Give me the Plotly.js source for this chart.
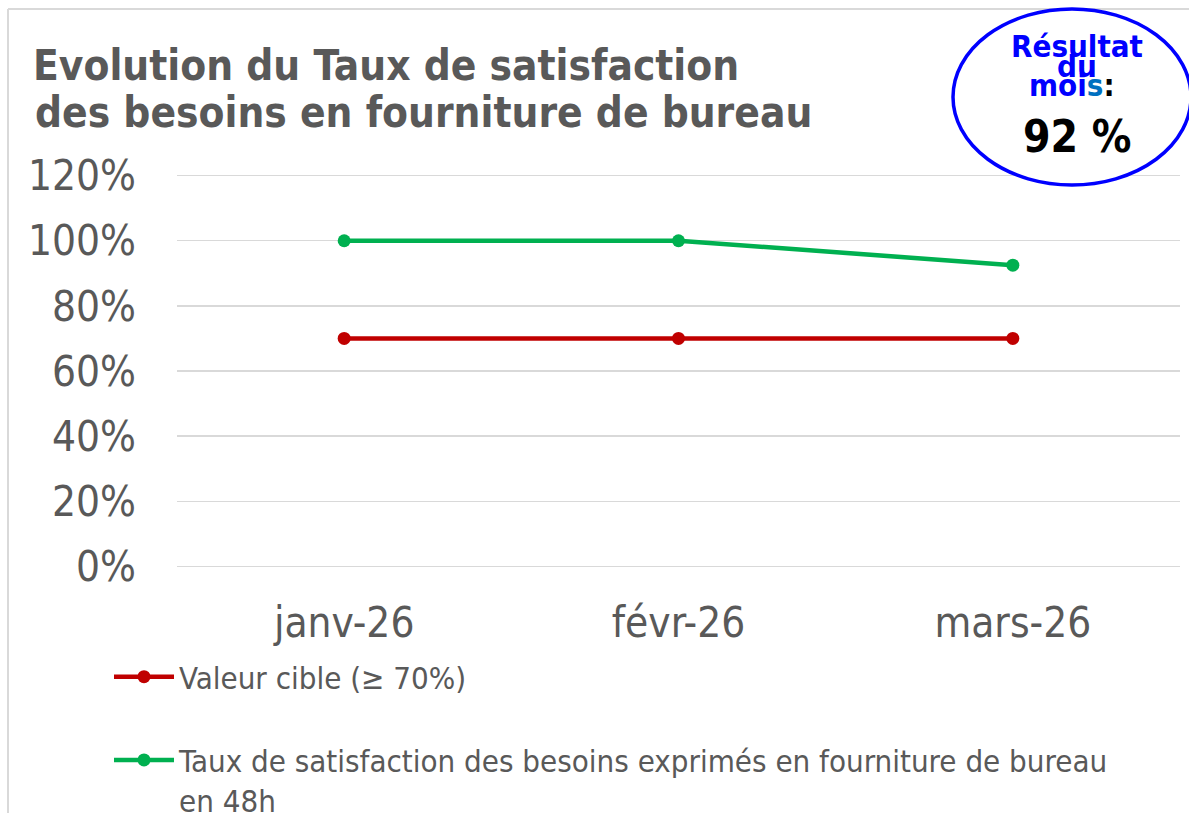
<!DOCTYPE html>
<html>
<head>
<meta charset="utf-8">
<script src="https://cdn.plot.ly/plotly-3.0.1.min.js"></script>
<style>
html,body{margin:0;padding:0;background:#fff;}
#chart{width:1189px;height:813px;}
</style>
</head>
<body>
<div id="chart"></div>
<script>
// ---- data ----
const months = ["janv-26", "févr-26", "mars-26"];
const targetValues = [0.70, 0.70, 0.70];
const satisfactionValues = [1.00, 1.00, 0.925];
const targetName = "Valeur cible (≥ 70%)";
const satisfactionName = "Taux de satisfaction des besoins exprimés en fourniture de bureau<br>en 48h";
const yTickValues = [0, 0.2, 0.4, 0.6, 0.8, 1.0, 1.2];
const titleLine1 = "Evolution du Taux de satisfaction";
const titleLine2 = "des besoins en fourniture de bureau";
const monthResult = "92 %";

// ---- layout geometry (pixels) ----
const W = 1189, H = 813;
const M = {l: 177, r: 9, t: 173, b: 244, autoexpand: false};
const PW = W - M.l - M.r, PH = H - M.t - M.b;
const px = x => (x - M.l) / PW;
const py = y => (H - M.b - y) / PH;

const FONT = "DejaVu Sans Condensed, DejaVu Sans, sans-serif";
const GREY = "#595959";

const traces = [
  {
    x: months, y: targetValues, name: targetName, type: "scatter", mode: "lines+markers",
    line: {color: "#c00000", width: 4.5}, marker: {color: "#c00000", size: 13},
    legendgroup: "a"
  },
  {
    x: months, y: satisfactionValues, name: satisfactionName, type: "scatter", mode: "lines+markers",
    line: {color: "#00b050", width: 4.5}, marker: {color: "#00b050", size: 13},
    legendgroup: "b"
  }
];

const layout = {
  width: W, height: H,
  margin: M,
  paper_bgcolor: "#fff", plot_bgcolor: "#fff",
  font: {family: FONT, color: GREY},
  title: {
    text: titleLine1,
    font: {family: FONT, size: 42, color: GREY, weight: "bold"},
    xref: "container", yref: "container",
    x: 33 / W, xanchor: "left",
    y: 1 - 65 / H, yanchor: "middle"
  },
  xaxis: {
    type: "category", range: [-0.5, 2.5],
    showgrid: false, showline: false, zeroline: false,
    ticks: "", ticklabelstandoff: 25,
    tickfont: {family: FONT, size: 42, color: GREY},
    fixedrange: true
  },
  yaxis: {
    range: [-0.008, 1.208], tickvals: yTickValues, tickformat: ".0%",
    showgrid: true, gridcolor: "#d9d9d9", gridwidth: 1.5,
    showline: false, zeroline: false,
    ticks: "", ticklabelstandoff: 40,
    tickfont: {family: FONT, size: 42, color: GREY},
    fixedrange: true
  },
  showlegend: true,
  legend: {
    x: px(109), xanchor: "left", xref: "paper",
    y: py(650), yanchor: "top", yref: "paper",
    orientation: "v",
    traceorder: "grouped", tracegroupgap: 40,
    itemwidth: 60, valign: "top",
    font: {family: FONT, size: 31, color: GREY},
    bgcolor: "rgba(0,0,0,0)"
  },
  shapes: [
    {type: "line", xref: "paper", yref: "paper", x0: px(8), x1: px(1195), y0: py(9), y1: py(9),
     line: {color: "#d9d9d9", width: 2}},
    {type: "line", xref: "paper", yref: "paper", x0: px(8), x1: px(8), y0: py(9), y1: py(820),
     line: {color: "#d9d9d9", width: 2}},
    {type: "circle", xref: "paper", yref: "paper", layer: "above",
     x0: px(953), x1: px(1191), y0: py(185), y1: py(9),
     fillcolor: "#ffffff", line: {color: "#0000ff", width: 3.5}}
  ],
  annotations: [
    {text: "<b>" + titleLine2 + "</b>", xref: "paper", yref: "paper", x: px(33), y: py(113),
     xanchor: "left", yanchor: "middle", showarrow: false,
     font: {family: FONT, size: 42, color: GREY}},
    {text: "<b>Résultat</b>", xref: "paper", yref: "paper", x: px(1077), y: py(46),
     xanchor: "center", yanchor: "middle", showarrow: false,
     font: {family: FONT, size: 31, color: "#0000ff"}},
    {text: "<b>du</b>", xref: "paper", yref: "paper", x: px(1077), y: py(66),
     xanchor: "center", yanchor: "middle", showarrow: false,
     font: {family: FONT, size: 31, color: "#0000ff"}},
    {text: "<b>moi<span style='color:#0070c0'>s</span><span style='color:#000000'>:</span></b>", xref: "paper", yref: "paper", x: px(1072), y: py(85),
     xanchor: "center", yanchor: "middle", showarrow: false,
     font: {family: FONT, size: 31, color: "#0000ff"}},
    {text: "<b>" + monthResult + "</b>", xref: "paper", yref: "paper", x: px(1077), y: py(136),
     xanchor: "center", yanchor: "middle", showarrow: false,
     font: {family: FONT, size: 44, color: "#000000"}}
  ]
};

Plotly.newPlot("chart", traces, layout, {displayModeBar: false, staticPlot: true});
</script>
</body>
</html>
